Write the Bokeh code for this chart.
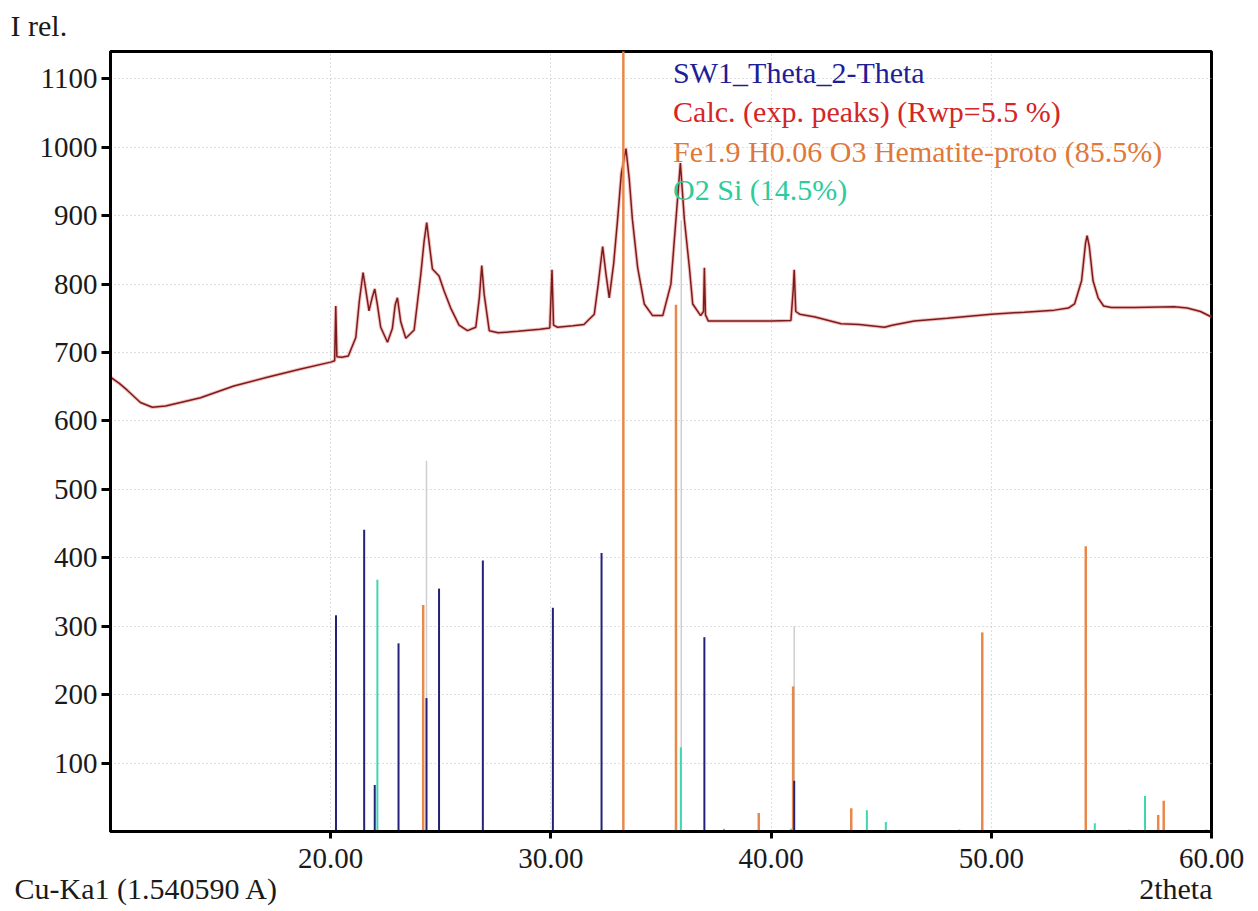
from bokeh.plotting import figure
from bokeh.models import ColumnDataSource, Label, FixedTicker, NumeralTickFormatter, Range1d, Title
from bokeh.embed import file_html
from bokeh.resources import INLINE

# ---- data ----
# calculated pattern (2theta, intensity)
calc_2theta = [10.0, 10.4, 10.76, 11.36, 11.9, 12.5, 13.18, 14.09, 15.6, 17.12, 18.64, 20.0,
               20.18, 20.23, 20.28, 20.5, 20.8, 21.14, 21.3, 21.47, 21.6, 21.74, 21.88, 22.0,
               22.12, 22.27, 22.58, 22.8, 22.93, 23.03, 23.18, 23.41, 23.79, 24.09, 24.24,
               24.36, 24.48, 24.62, 24.92, 25.15, 25.45, 25.83, 26.21, 26.59, 26.75, 26.86,
               26.97, 27.2, 27.6, 28.5, 29.5, 29.95, 30.05, 30.12, 30.3, 31.0, 31.5, 31.97,
               32.15, 32.35, 32.5, 32.65, 32.85, 33.03, 33.2, 33.41, 33.56, 33.7, 33.94,
               34.24, 34.62, 35.08, 35.45, 35.68, 35.88, 36.06, 36.29, 36.44, 36.8, 36.93,
               36.97, 37.02, 37.15, 38.0, 39.0, 40.0, 40.9, 41.0, 41.05, 41.12, 41.3, 42.0,
               43.18, 44.0, 45.15, 45.5, 46.5, 48.0, 50.0, 51.5, 52.87, 53.5, 53.78, 54.1,
               54.28, 54.35, 54.45, 54.62, 54.85, 55.1, 55.45, 56.5, 58.3, 58.9, 59.5, 60.0]
calc_int = [664, 655, 645, 627, 620, 622, 627, 634, 651, 664, 676, 686,
            688, 768, 694, 693, 695, 722, 775, 817, 790, 761, 780, 793,
            770, 737, 715, 735, 770, 780, 745, 721, 733, 814, 862,
            890, 858, 822, 812, 790, 765, 740, 732, 737, 780, 827,
            785, 732, 729, 731, 734, 736, 821, 740, 737, 739, 741, 756,
            800, 855, 815, 780, 830, 895, 962, 998, 953, 895, 824,
            771, 754, 754, 800, 895, 977, 895, 824, 771, 754, 760,
            824, 755, 746, 746, 746, 746, 747, 790, 821, 760, 756, 752,
            742, 741, 737, 740, 746, 750, 756, 759, 762, 765, 771, 805,
            860, 871, 855, 805, 780, 768, 766, 766, 767, 765, 760, 752]

# peak sticks
sw1_2theta = [20.24, 21.52, 22.0, 23.08, 24.35, 24.92, 26.91, 30.09, 32.3, 36.97, 41.05]
sw1_int = [316, 441, 68, 275, 195, 355, 396, 327, 407, 284, 74]

hem_2theta = [24.2, 33.29, 35.68, 39.44, 41.0, 43.64, 49.59, 54.29, 57.58, 57.83]
hem_int = [331, 1200, 770, 27, 212, 34, 291, 417, 24, 45]

sio2_2theta = [22.12, 35.9, 37.86, 40.9, 44.35, 45.21, 48.55, 54.7, 56.27, 56.98, 59.77]
sio2_int = [368, 123, 4, 4, 31, 14, 3, 12, 3, 52, 3]

sum_2theta = [24.35, 35.92, 41.05]
sum_int = [542, 893, 300]

x_ticks = [20, 30, 40, 50, 60]
y_ticks = [100, 200, 300, 400, 500, 600, 700, 800, 900, 1000, 1100]

legend_texts = ["SW1_Theta_2-Theta", "Calc. (exp. peaks) (Rwp=5.5 %)",
                "Fe1.9 H0.06 O3 Hematite-proto (85.5%)", "O2 Si  (14.5%)"]
legend_colors = ["#1e1e96", "#d42626", "#e0783a", "#2ccc9c"]

FONT = "Liberation Serif"

p = figure(width=1258, height=911, output_backend="svg", toolbar_location=None,
           x_range=Range1d(10, 60), y_range=Range1d(0, 1140),
           min_border_left=110, min_border_right=47, min_border_top=51, min_border_bottom=80)

p.background_fill_color = "white"
p.outline_line_color = "black"
p.outline_line_width = 3

for ax in (p.xaxis[0], p.yaxis[0]):
    ax.axis_line_width = 3
    ax.axis_line_color = "black"
    ax.major_tick_line_width = 3
    ax.major_tick_line_color = "black"
    ax.major_tick_in = 0
    ax.minor_tick_line_color = None
    ax.major_label_text_font = FONT
    ax.major_label_text_font_size = "29px"
    ax.major_label_text_color = "#1a1a1a"

p.xaxis[0].ticker = FixedTicker(ticks=x_ticks)
p.xaxis[0].formatter = NumeralTickFormatter(format="0.00")
p.xaxis[0].major_tick_out = 7
p.xaxis[0].major_label_standoff = 10
p.yaxis[0].ticker = FixedTicker(ticks=y_ticks)
p.yaxis[0].major_tick_out = 9
p.yaxis[0].major_label_standoff = 4

p.xgrid[0].ticker = FixedTicker(ticks=x_ticks)
p.ygrid[0].ticker = FixedTicker(ticks=y_ticks)
for g in (p.xgrid[0], p.ygrid[0]):
    g.grid_line_color = "#bdbdbd"
    g.grid_line_dash = "1 3"
    g.grid_line_width = 1

# calculated curve
csrc = ColumnDataSource(dict(x=calc_2theta, y=calc_int))
p.line("x", "y", source=csrc, line_color="#e87070", line_width=3.5, line_alpha=0.45)
p.line("x", "y", source=csrc, line_color="#7a1c1c", line_width=1.5)

def sticks(xs, hs, color, width=2):
    src = ColumnDataSource(dict(x=xs, y0=[0] * len(xs), y1=hs))
    p.segment(x0="x", y0="y0", x1="x", y1="y1", source=src, line_color=color, line_width=width)

sticks(sum_2theta, sum_int, "#cfcfcf", 1.5)
sticks(hem_2theta, hem_int, "#e8884a", 2.5)
sticks(sio2_2theta, sio2_int, "#3fd6b4", 2)
sticks(sw1_2theta, sw1_int, "#22227a", 2)

# legend texts (inside the frame)
legend_y = [1109, 1052, 994, 938]
for t, c, yy in zip(legend_texts, legend_colors, legend_y):
    p.add_layout(Label(x=35.55, y=yy, text=t, text_color=c, text_font=FONT,
                       text_font_size="30px", text_baseline="alphabetic", text_align="left"))

# outer texts as titles in the side panels
t_top = Title(text="I rel.", align="left", vertical_align="top", offset=-100, standoff=16,
              text_font=FONT, text_font_size="30px", text_font_style="normal", text_color="#1a1a1a")
p.add_layout(t_top, "above")

t_b1 = Title(text="Cu-Ka1 (1.540590 A)", align="left", vertical_align="top", offset=-96, standoff=2,
             text_font=FONT, text_font_size="30px", text_font_style="normal", text_color="#1a1a1a")
p.add_layout(t_b1, "below")
t_b2 = Title(text="2theta", align="right", vertical_align="top", offset=-1, standoff=-72,
             text_font=FONT, text_font_size="30px", text_font_style="normal", text_color="#1a1a1a")
p.add_layout(t_b2, "below")

open("out.html", "w").write(file_html(p, INLINE))
